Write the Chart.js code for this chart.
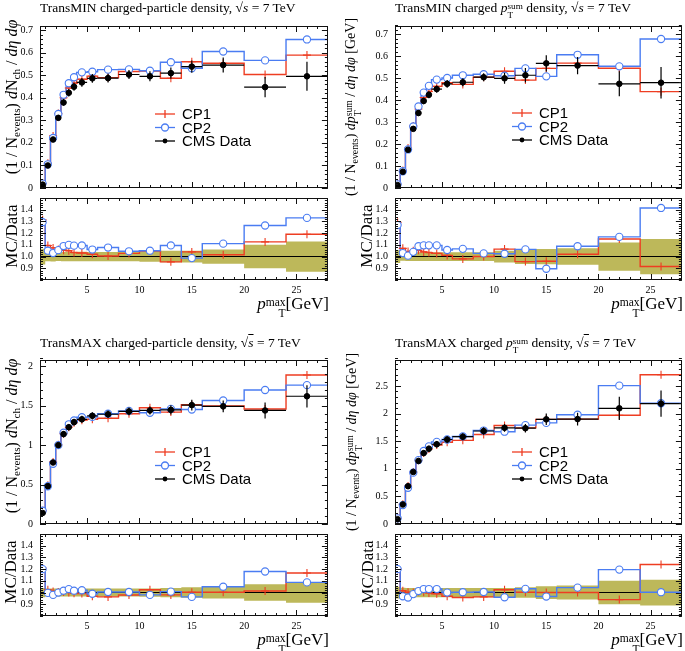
<!DOCTYPE html>
<html lang="en">
<head>
<meta charset="UTF-8">
<title>TransMIN / TransMAX densities, 7 TeV</title>
<script src="https://cdn.jsdelivr.net/npm/chart.js"></script>
<style>
  body {
    margin: 0;
    width: 685px;
    height: 651px;
    background: #fff;
    position: relative;
    overflow: hidden;
    font-family: 'Liberation Serif', serif;
    color: #000;
  }
  canvas { position: absolute; }
  .title { position: absolute; font-size: 13.5px; line-height: 16px; white-space: nowrap; }
  .ylab {
    position: absolute;
    white-space: nowrap;
    line-height: 1;
    transform: translate(-50%, -50%) rotate(-90deg);
  }
  .xlab { position: absolute; font-size: 17px; white-space: nowrap; text-align: right; }
  .ss {
    display: inline-flex;
    flex-direction: column;
    font-size: 0.68em;
    line-height: 0.95;
    vertical-align: 0.3em;
    font-style: normal;
  }
  sub { font-size: 0.7em; line-height: 0; vertical-align: -0.3em; }
  .ov { text-decoration: overline; font-style: italic; }
</style>
</head>
<body>
<div id="plots"></div>

<!-- titres -->
<div class="title" style="left:40px; top:0px;">TransMIN charged-particle density, √<span class="ov">s</span> = 7 TeV</div>
<div class="title" style="left:395px; top:0px;">TransMIN charged <i>p</i><span class="ss"><span>sum</span><span>T</span></span> density, √<span class="ov">s</span> = 7 TeV</div>
<div class="title" style="left:40px; top:335px;">TransMAX charged-particle density, √<span class="ov">s</span> = 7 TeV</div>
<div class="title" style="left:395px; top:335px;">TransMAX charged <i>p</i><span class="ss"><span>sum</span><span>T</span></span> density, √<span class="ov">s</span> = 7 TeV</div>

<!-- axes y -->
<div class="ylab" style="left:12px; top:97px; font-size:16px;">(1 / N<sub>events</sub>) <i>d</i>N<sub>ch</sub> / <i>dη dφ</i></div>
<div class="ylab" style="left:354px; top:107px; font-size:14px;">(1 / N<sub>events</sub>) <i>dp</i><span class="ss"><span>sum</span><span>T</span></span> / <i>dη dφ</i> [GeV]</div>
<div class="ylab" style="left:12px; top:436px; font-size:16px;">(1 / N<sub>events</sub>) <i>d</i>N<sub>ch</sub> / <i>dη dφ</i></div>
<div class="ylab" style="left:355px; top:442px; font-size:14px;">(1 / N<sub>events</sub>) <i>dp</i><span class="ss"><span>sum</span><span>T</span></span> / <i>dη dφ</i> [GeV]</div>

<div class="ylab" style="left:11px; top:236px; font-size:17px;">MC/Data</div>
<div class="ylab" style="left:366px; top:236px; font-size:17px;">MC/Data</div>
<div class="ylab" style="left:10px; top:572px; font-size:17px;">MC/Data</div>
<div class="ylab" style="left:367px; top:572px; font-size:17px;">MC/Data</div>

<!-- axes x -->
<div class="xlab" style="right:356px; top:294px;"><i>p</i><span class="ss"><span>max</span><span>T</span></span>[GeV]</div>
<div class="xlab" style="right:2px; top:294px;"><i>p</i><span class="ss"><span>max</span><span>T</span></span>[GeV]</div>
<div class="xlab" style="right:356px; top:630px;"><i>p</i><span class="ss"><span>max</span><span>T</span></span>[GeV]</div>
<div class="xlab" style="right:2px; top:630px;"><i>p</i><span class="ss"><span>max</span><span>T</span></span>[GeV]</div>

<script>
  // bins en pT max (GeV)
  const binEdges = [0.5, 1, 1.5, 2, 2.5, 3, 3.5, 4, 5, 6, 8, 10, 12, 14, 16, 20, 24, 28];
  const xTickLabels = [5, 10, 15, 20, 25];
  const ratioTicks = [0.9, 1.0, 1.1, 1.2, 1.3, 1.4];

  // TransMIN charged-particle density
  const minNchData = [0.015, 0.100, 0.215, 0.311, 0.379, 0.422, 0.449, 0.468, 0.486, 0.487, 0.503, 0.495, 0.509, 0.538, 0.545, 0.447, 0.495];
  const minNchErr  = [0.001, 0.004, 0.009, 0.012, 0.015, 0.017, 0.018, 0.019, 0.019, 0.019, 0.020, 0.022, 0.025, 0.027, 0.033, 0.045, 0.064];
  const minNchCP1  = [0.0197, 0.1095, 0.2309, 0.3297, 0.3998, 0.4431, 0.4647, 0.4820, 0.4957, 0.4894, 0.5166, 0.5188, 0.4861, 0.5595, 0.5532, 0.5029, 0.5891];
  const minNchCP2  = [0.0194, 0.1050, 0.2215, 0.3281, 0.4131, 0.4642, 0.4908, 0.5125, 0.5152, 0.5245, 0.5256, 0.5198, 0.5574, 0.5310, 0.6050, 0.5655, 0.6584];
  const minNchTicks = [0, 0.1, 0.2, 0.3, 0.4, 0.5, 0.6, 0.7];

  // TransMIN charged pTsum density
  const minPtData = [0.013, 0.074, 0.174, 0.269, 0.341, 0.396, 0.424, 0.450, 0.474, 0.481, 0.504, 0.499, 0.513, 0.567, 0.557, 0.474, 0.479];
  const minPtErr  = [0.0007, 0.0027, 0.0064, 0.0100, 0.0126, 0.0147, 0.0157, 0.0167, 0.0175, 0.0178, 0.0186, 0.0250, 0.0328, 0.0369, 0.0390, 0.0569, 0.0719];
  const minPtCP1  = [0.0168, 0.0792, 0.1815, 0.2825, 0.3591, 0.4118, 0.4388, 0.4622, 0.4787, 0.4714, 0.5040, 0.5309, 0.4909, 0.5443, 0.5681, 0.5451, 0.4383];
  const minPtCP2  = [0.0165, 0.0762, 0.1754, 0.2798, 0.3710, 0.4340, 0.4647, 0.4932, 0.5005, 0.5127, 0.5176, 0.5110, 0.5443, 0.5080, 0.6060, 0.5536, 0.6778];
  const minPtTicks = [0, 0.1, 0.2, 0.3, 0.4, 0.5, 0.6, 0.7];

  // TransMAX charged-particle density
  const maxNchData = [0.140, 0.480, 0.780, 1.000, 1.140, 1.228, 1.292, 1.328, 1.372, 1.392, 1.428, 1.440, 1.448, 1.508, 1.492, 1.440, 1.620];
  const maxNchErr  = [0.0056, 0.0163, 0.0265, 0.0340, 0.0388, 0.0418, 0.0439, 0.0452, 0.0466, 0.0473, 0.0486, 0.0504, 0.0579, 0.0679, 0.0746, 0.1008, 0.1409];
  const maxNchCP1  = [0.1694, 0.4915, 0.7878, 1.0050, 1.1457, 1.2280, 1.2855, 1.3174, 1.3281, 1.3405, 1.3980, 1.4746, 1.4190, 1.5125, 1.4965, 1.4587, 1.8905];
  const maxNchCP2  = [0.1680, 0.4786, 0.7644, 1.0000, 1.1582, 1.2648, 1.3127, 1.3546, 1.3583, 1.3990, 1.4351, 1.4112, 1.4596, 1.4522, 1.5666, 1.6992, 1.7609];
  const maxNchTicks = [0, 0.5, 1, 1.5, 2];

  // TransMAX charged pTsum density
  const maxPtData = [0.086, 0.354, 0.685, 0.942, 1.142, 1.284, 1.364, 1.444, 1.530, 1.581, 1.684, 1.741, 1.735, 1.895, 1.900, 2.095, 2.180];
  const maxPtErr  = [0.0043, 0.0142, 0.0274, 0.0377, 0.0457, 0.0514, 0.0546, 0.0578, 0.0612, 0.0632, 0.0674, 0.0696, 0.0781, 0.1042, 0.1140, 0.2095, 0.2398];
  const maxPtCP1  = [0.1032, 0.3597, 0.6871, 0.9420, 1.1534, 1.2879, 1.3599, 1.4296, 1.4810, 1.5146, 1.6217, 1.7828, 1.7402, 1.8950, 1.9000, 1.9693, 2.7032];
  const maxPtCP2  = [0.1032, 0.3427, 0.6562, 0.9298, 1.1568, 1.3225, 1.4049, 1.4873, 1.5300, 1.5857, 1.6924, 1.6714, 1.7905, 1.8306, 1.9798, 2.5056, 2.1865];
  const maxPtTicks = [0, 0.5, 1, 1.5, 2, 2.5];

  const RED = '#EE3D22';
  const BLUE = '#4A7CF2';
  const BAND = '#BDB85A';

  // points aux bords bas des bins + bord final ; tracé en marches (stepped 'before' = horizontal d'abord)
  function stepPoints(vals) {
    const pts = vals.map((v, i) => ({ x: binEdges[i], y: v }));
    pts.push({ x: binEdges[binEdges.length - 1], y: vals[vals.length - 1] });
    return pts;
  }
  function centerPoints(vals) {
    return vals.map((v, i) => ({ x: (binEdges[i] + binEdges[i + 1]) / 2, y: v }));
  }

  // cadre + graduations vers l'intérieur
  const frameTicks = {
    id: 'frameTicks',
    afterDraw(chart, args, o) {
      const { ctx, chartArea: a, scales } = chart;
      const xs = scales.x, ys = scales.y;
      ctx.save();
      ctx.strokeStyle = '#111';
      ctx.lineWidth = 1;
      ctx.beginPath();
      for (let v = 1; v <= 27; v++) {
        const px = Math.round(xs.getPixelForValue(v)) + 0.5;
        const len = v % 5 === 0 ? 6 : 3;
        ctx.moveTo(px, a.bottom); ctx.lineTo(px, a.bottom - len);
        ctx.moveTo(px, a.top); ctx.lineTo(px, a.top + len);
      }
      const n = Math.round((o.max - o.min) / o.minor);
      for (let i = 0; i <= n; i++) {
        const v = o.min + i * o.minor;
        const py = Math.round(ys.getPixelForValue(v)) + 0.5;
        const major = o.major.some(m => Math.abs(m - v) < 1e-6);
        const len = major ? 6 : 3;
        ctx.moveTo(a.left, py); ctx.lineTo(a.left + len, py);
        ctx.moveTo(a.right, py); ctx.lineTo(a.right - len, py);
      }
      ctx.stroke();
      ctx.strokeRect(Math.round(a.left) + 0.5, Math.round(a.top) + 0.5,
                     Math.round(a.right - a.left) - 1, Math.round(a.bottom - a.top) - 1);
      ctx.restore();
    }
  };

  // barres d'erreur des données (largeur du bin + erreur verticale)
  const dataBars = {
    id: 'dataBars',
    afterDatasetsDraw(chart) {
      const { ctx, scales: { x, y } } = chart;
      chart.data.datasets.forEach(ds => {
        if (!ds.errY) return;
        ctx.save();
        ctx.strokeStyle = '#000';
        ctx.lineWidth = 1.2;
        ds.data.forEach((p, i) => {
          const py = y.getPixelForValue(p.y);
          const px = x.getPixelForValue(p.x);
          ctx.beginPath();
          ctx.moveTo(x.getPixelForValue(binEdges[i]), py);
          ctx.lineTo(x.getPixelForValue(binEdges[i + 1]), py);
          ctx.moveTo(px, y.getPixelForValue(p.y - ds.errY[i]));
          ctx.lineTo(px, y.getPixelForValue(p.y + ds.errY[i]));
          ctx.stroke();
        });
        ctx.restore();
      });
    }
  };

  const panelLegend = {
    id: 'panelLegend',
    afterDraw(chart, args, o) {
      if (!o || !o.items) return;
      const { ctx, chartArea: a } = chart;
      ctx.save();
      o.items.forEach((it, k) => {
        const y = a.top + o.y + k * o.dy;
        const x0 = a.left + o.x;
        ctx.strokeStyle = it.color;
        ctx.lineWidth = 1.3;
        ctx.beginPath(); ctx.moveTo(x0, y); ctx.lineTo(x0 + 20, y); ctx.stroke();
        const cx = x0 + 10;
        ctx.beginPath();
        if (it.style === 'cross') {
          ctx.moveTo(cx, y - 4); ctx.lineTo(cx, y + 4);
          ctx.stroke();
        } else if (it.style === 'circle') {
          ctx.arc(cx, y, 3.5, 0, Math.PI * 2);
          ctx.fillStyle = '#fff'; ctx.fill(); ctx.stroke();
        } else {
          ctx.arc(cx, y, 2.4, 0, Math.PI * 2);
          ctx.fillStyle = '#000'; ctx.fill();
        }
        ctx.fillStyle = '#000';
        ctx.font = '15px "Liberation Sans"';
        ctx.textBaseline = 'middle';
        ctx.fillText(it.label, x0 + 27, y + 1);
      });
      ctx.restore();
    }
  };

  const LEFT = 34, PADV = 8, RIGHTPAD = 3, XAX = 22;

  function addCanvas(left, top, w, h) {
    const c = document.createElement('canvas');
    c.width = w; c.height = h;
    c.style.left = left + 'px'; c.style.top = top + 'px';
    c.style.width = w + 'px'; c.style.height = h + 'px';
    document.getElementById('plots').appendChild(c);
    return c;
  }

  function makePanel(p) {
    const legendItems = [
      { label: 'CP1', color: RED, style: 'cross' },
      { label: 'CP2', color: BLUE, style: 'circle' },
      { label: 'CMS Data', color: '#000', style: 'dot' }
    ];

    const mainCanvas = addCanvas(p.fl - LEFT, p.mt - PADV, p.fr - p.fl + LEFT + RIGHTPAD, p.s - p.mt + 2 * PADV);
    new Chart(mainCanvas, {
      type: 'line',
      data: {
        datasets: [
          { label: 'CMS Data', data: centerPoints(p.data), errY: p.err, showLine: false,
            pointRadius: 2.8, pointBackgroundColor: '#000', pointBorderColor: '#000', order: 0 },
          { label: 'CP2', data: centerPoints(p.cp2), showLine: false, pointStyle: 'circle',
            pointRadius: 3.6, pointBackgroundColor: '#fff', pointBorderColor: BLUE, pointBorderWidth: 1.1, order: 1 },
          { label: 'CP1', data: centerPoints(p.cp1), showLine: false, pointStyle: 'cross',
            pointRadius: 4, pointBorderColor: RED, pointBorderWidth: 1.1, order: 2 },
          { data: stepPoints(p.cp2), stepped: 'before', borderColor: BLUE, borderWidth: 1.4, pointRadius: 0, order: 3 },
          { data: stepPoints(p.cp1), stepped: 'before', borderColor: RED, borderWidth: 1.4, pointRadius: 0, order: 4 }
        ]
      },
      options: {
        responsive: false, animation: false, devicePixelRatio: 1,
        layout: { padding: { top: PADV, bottom: PADV, left: 0, right: RIGHTPAD } },
        plugins: {
          legend: { display: false }, tooltip: { enabled: false },
          frameTicks: { min: 0, max: p.yMax, minor: p.yMinor, major: p.yTicks },
          panelLegend: { items: legendItems, x: p.legX, y: p.legY, dy: 13.5 }
        },
        scales: {
          x: { type: 'linear', min: 0.5, max: 28, display: false },
          y: {
            type: 'linear', min: 0, max: p.yMax,
            grid: { display: false, drawTicks: false }, border: { display: false },
            afterFit(s) { s.width = LEFT; },
            afterBuildTicks(s) { s.ticks = p.yTicks.map(v => ({ value: v })); },
            ticks: { autoSkip: false, padding: 7, color: '#000',
                     font: { family: 'Liberation Serif', size: 10 }, callback: v => String(v) }
          }
        }
      },
      plugins: [frameTicks, dataBars, panelLegend]
    });

    // rapport MC / données
    const ratio = vals => vals.map((v, i) => v / p.data[i]);
    const relUp = p.data.map((d, i) => 1 + p.err[i] / d);
    const relDn = p.data.map((d, i) => 1 - p.err[i] / d);

    const ratioCanvas = addCanvas(p.fl - LEFT, p.s - PADV, p.fr - p.fl + LEFT + RIGHTPAD, p.rb - p.s + PADV + XAX);
    new Chart(ratioCanvas, {
      type: 'line',
      data: {
        datasets: [
          { data: stepPoints(relUp), stepped: 'before', borderWidth: 0, pointRadius: 0,
            fill: '+1', backgroundColor: BAND, order: 9 },
          { data: stepPoints(relDn), stepped: 'before', borderWidth: 0, pointRadius: 0, fill: false, order: 8 },
          { data: stepPoints(ratio(p.data)), stepped: 'before', borderColor: '#000', borderWidth: 1.1, pointRadius: 0, order: 5 },
          { data: stepPoints(ratio(p.cp1)), stepped: 'before', borderColor: RED, borderWidth: 1.4, pointRadius: 0, order: 4 },
          { data: stepPoints(ratio(p.cp2)), stepped: 'before', borderColor: BLUE, borderWidth: 1.4, pointRadius: 0, order: 3 },
          { data: centerPoints(ratio(p.cp1)), showLine: false, pointStyle: 'cross',
            pointRadius: 4, pointBorderColor: RED, pointBorderWidth: 1.1, order: 2 },
          { data: centerPoints(ratio(p.cp2)), showLine: false, pointStyle: 'circle',
            pointRadius: 3.6, pointBackgroundColor: '#fff', pointBorderColor: BLUE, pointBorderWidth: 1.1, order: 1 }
        ]
      },
      options: {
        responsive: false, animation: false, devicePixelRatio: 1,
        layout: { padding: { top: PADV, bottom: 0, left: 0, right: RIGHTPAD } },
        plugins: {
          legend: { display: false }, tooltip: { enabled: false },
          frameTicks: { min: 0.8, max: 1.5, minor: 0.02, major: ratioTicks }
        },
        scales: {
          x: {
            type: 'linear', min: 0.5, max: 28,
            grid: { display: false, drawTicks: false }, border: { display: false },
            afterFit(s) { s.height = XAX; },
            afterBuildTicks(s) { s.ticks = xTickLabels.map(v => ({ value: v })); },
            ticks: { autoSkip: false, maxRotation: 0, padding: 4, color: '#000',
                     font: { family: 'Liberation Serif', size: 10 }, callback: v => String(v) }
          },
          y: {
            type: 'linear', min: 0.8, max: 1.5,
            grid: { display: false, drawTicks: false }, border: { display: false },
            afterFit(s) { s.width = LEFT; },
            afterBuildTicks(s) { s.ticks = ratioTicks.map(v => ({ value: v })); },
            ticks: { autoSkip: false, padding: 7, color: '#000',
                     font: { family: 'Liberation Serif', size: 10 }, callback: v => v.toFixed(1) }
          }
        }
      },
      plugins: [frameTicks]
    });
  }

  makePanel({ fl: 40, fr: 330, mt: 21, s: 193, rb: 280, data: minNchData, err: minNchErr,
              cp1: minNchCP1, cp2: minNchCP2, yMax: 0.718, yTicks: minNchTicks, yMinor: 0.02, legX: 115, legY: 88 });
  makePanel({ fl: 395, fr: 684, mt: 21, s: 193, rb: 280, data: minPtData, err: minPtErr,
              cp1: minPtCP1, cp2: minPtCP2, yMax: 0.737, yTicks: minPtTicks, yMinor: 0.02, legX: 117, legY: 87 });
  makePanel({ fl: 40, fr: 330, mt: 355, s: 529, rb: 616, data: maxNchData, err: maxNchErr,
              cp1: maxNchCP1, cp2: maxNchCP2, yMax: 2.08, yTicks: maxNchTicks, yMinor: 0.1, legX: 115, legY: 92 });
  makePanel({ fl: 395, fr: 684, mt: 355, s: 529, rb: 616, data: maxPtData, err: maxPtErr,
              cp1: maxPtCP1, cp2: maxPtCP2, yMax: 2.97, yTicks: maxPtTicks, yMinor: 0.1, legX: 117, legY: 92 });
</script>
</body>
</html>
